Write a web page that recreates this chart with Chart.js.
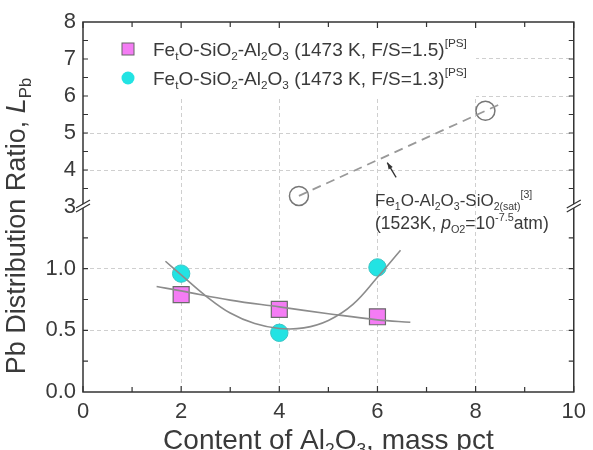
<!DOCTYPE html>
<html>
<head>
<meta charset="utf-8">
<script src="https://cdn.jsdelivr.net/npm/chart.js@4.4.0/dist/chart.umd.min.js"></script>
<style>
html, body { margin: 0; padding: 0; background: #fff; }
</style>
</head>
<body>
<canvas id="graph" width="593" height="450"></canvas>
<script>
// measured points
const alContent = [2, 4, 6];
const lpbFS15 = [0.79, 0.67, 0.61];
const lpbFS13 = [0.96, 0.48, 1.01];
// fitted curves
const fitFS15X = [1.5, 2, 3, 4, 5, 6, 6.67];
const fitFS15Y = [0.855, 0.82, 0.745, 0.69, 0.635, 0.585, 0.565];
const fitFS13X = [1.68, 2, 2.5, 3, 3.5, 4, 4.5, 5, 5.5, 6, 6.47];
const fitFS13Y = [1.06, 0.95, 0.78, 0.64, 0.555, 0.515, 0.52, 0.58, 0.71, 0.93, 1.15];
// Fe1O-Al2O3-SiO2(sat) at 1523K
const refX = [4.4, 8.2];
const refY = [3.3, 5.6];
const refLineX = [4.4, 8.5];
const refLineY = [3.3, 5.78];

const xTicks = [0, 2, 4, 6, 8, 10];
const lowTicks = [0, 0.5, 1.0];
const highTicks = [3, 4, 5, 6, 7, 8];

const FONT = '"Liberation Sans", Arial, sans-serif';
const TXT = '#3a3a3a';

function pairs(xs, ys) {
    return xs.map((x, i) => ({x: x, y: ys[i]}));
}

// text with sub / superscripts: parts = [[text, mode]], mode '' | 'b' (sub) | 'p' (sup) | 'i' (italic)
function rich(ctx, x, y, parts, size, draw) {
    let cx = x;
    parts.forEach(([t, m]) => {
        let fs = size, dy = 0, st = '';
        if (m === 'b') { fs = size * 0.62; dy = size * 0.22; }
        if (m === 'p') { fs = size * 0.62; dy = -size * 0.45; }
        if (m === 'i') st = 'italic ';
        ctx.font = st + fs + 'px ' + FONT;
        if (draw !== false) ctx.fillText(t, cx, y + dy);
        cx += ctx.measureText(t).width;
    });
    return cx - x;
}

function gridColor(edges) {
    return c => edges.includes(c.tick.value) ? 'rgba(0,0,0,0)' : '#cfcfcf';
}

const framePlugin = {
    id: 'frame',
    beforeDatasetsDraw(chart) {
        const {ctx, chartArea: a} = chart;
        // legend box hides the grid
        ctx.save();
        ctx.fillStyle = '#fff';
        ctx.fillRect(a.left + 1, a.top + 1, 392, 74);
        ctx.restore();
    },
    afterDraw(chart) {
        const {ctx, chartArea: a} = chart;
        const sx = chart.scales.x, lo = chart.scales.yLow, hi = chart.scales.yHigh;
        ctx.save();
        ctx.strokeStyle = '#333';
        ctx.lineWidth = 1.5;
        ctx.strokeRect(a.left, a.top, a.right - a.left, a.bottom - a.top);

        // inward ticks
        ctx.lineWidth = 1.2;
        ctx.beginPath();
        for (let v = 0; v <= 10; v++) {
            const px = sx.getPixelForValue(v);
            const len = v % 2 === 0 ? 6 : 5;
            ctx.moveTo(px, a.bottom); ctx.lineTo(px, a.bottom - len);
            ctx.moveTo(px, a.top); ctx.lineTo(px, a.top + len);
        }
        for (let v = 0.25; v < 1.5; v += 0.25) {
            const py = lo.getPixelForValue(v);
            ctx.moveTo(a.left, py); ctx.lineTo(a.left + 5, py);
            ctx.moveTo(a.right, py); ctx.lineTo(a.right - 5, py);
        }
        for (let v = 3.5; v < 8; v += 0.5) {
            const py = hi.getPixelForValue(v);
            ctx.moveTo(a.left, py); ctx.lineTo(a.left + 5, py);
            ctx.moveTo(a.right, py); ctx.lineTo(a.right - 5, py);
        }
        ctx.stroke();

        // axis breaks
        const by = hi.bottom - 2;
        [a.left, a.right].forEach(bx => {
            ctx.fillStyle = '#fff';
            ctx.beginPath();
            ctx.moveTo(bx - 7, by + 3); ctx.lineTo(bx + 7, by - 5);
            ctx.lineTo(bx + 7, by - 1); ctx.lineTo(bx - 7, by + 7);
            ctx.closePath();
            ctx.fill();
            ctx.strokeStyle = '#333';
            ctx.lineWidth = 1.3;
            ctx.beginPath();
            ctx.moveTo(bx - 7, by + 3); ctx.lineTo(bx + 7, by - 5);
            ctx.moveTo(bx - 7, by + 7); ctx.lineTo(bx + 7, by - 1);
            ctx.stroke();
        });

        ctx.fillStyle = TXT;
        ctx.textBaseline = 'alphabetic';
        ctx.textAlign = 'left';

        // x title
        const xt = [['Content of Al', ''], ['2', 'b'], ['O', ''], ['3', 'b'], [', mass pct', '']];
        const xw = rich(ctx, 0, 0, xt, 28, false);
        rich(ctx, (a.left + a.right) / 2 - xw / 2, 449, xt, 28);

        // y title
        const yt = [['Pb Distribution Ratio, ', ''], ['L', 'i'], ['Pb', 'b']];
        const yw = rich(ctx, 0, 0, yt, 27, false);
        ctx.save();
        ctx.translate(25, 226);
        ctx.rotate(-Math.PI / 2);
        rich(ctx, -yw / 2, 0, yt, 27);
        ctx.restore();

        // legend
        const lx = 128;
        ctx.fillStyle = '#f47cf4';
        ctx.strokeStyle = '#666';
        ctx.lineWidth = 1;
        ctx.fillRect(lx - 6, 43, 12, 12);
        ctx.strokeRect(lx - 6, 43, 12, 12);
        ctx.fillStyle = '#22e3e3';
        ctx.beginPath();
        ctx.arc(lx, 78, 6.5, 0, Math.PI * 2);
        ctx.fill();
        ctx.fillStyle = TXT;
        const leg = s => [['Fe', ''], ['t', 'b'], ['O-SiO', ''], ['2', 'b'], ['-Al', ''], ['2', 'b'], ['O', ''], ['3', 'b'],
            [' (1473 K, F/S=' + s + ')', ''], ['[PS]', 'p']];
        rich(ctx, 153, 56, leg('1.5'), 19);
        rich(ctx, 153, 85, leg('1.3'), 19);

        // annotation
        const tipX = sx.getPixelForValue(6.2), tipY = hi.getPixelForValue(4.2);
        const tailX = sx.getPixelForValue(6.38), tailY = hi.getPixelForValue(3.8);
        ctx.strokeStyle = '#333';
        ctx.lineWidth = 1.3;
        ctx.beginPath();
        ctx.moveTo(tailX, tailY); ctx.lineTo(tipX, tipY);
        ctx.stroke();
        const ang = Math.atan2(tipY - tailY, tipX - tailX);
        ctx.fillStyle = '#333';
        ctx.beginPath();
        ctx.moveTo(tipX, tipY);
        ctx.lineTo(tipX - 7 * Math.cos(ang - 0.35), tipY - 7 * Math.sin(ang - 0.35));
        ctx.lineTo(tipX - 7 * Math.cos(ang + 0.35), tipY - 7 * Math.sin(ang + 0.35));
        ctx.closePath();
        ctx.fill();
        ctx.fillStyle = TXT;
        rich(ctx, 375, 206, [['Fe', ''], ['1', 'b'], ['O-Al', ''], ['2', 'b'], ['O', ''], ['3', 'b'], ['-SiO', ''],
            ['2(sat)', 'b'], ['[3]', 'p']], 17);
        rich(ctx, 375, 229, [['(1523K, ', ''], ['p', 'i'], ['O', 'b'], ['2', 'b'], ['=10', ''], ['-7.5', 'p'], ['atm)', '']], 17.5);
        ctx.restore();
    }
};

const tickFont = {family: FONT, size: 22};

const ctx = document.getElementById('graph').getContext('2d');
new Chart(ctx, {
    type: 'scatter',
    data: {
        datasets: [{
            label: 'fit F/S=1.5',
            data: pairs(fitFS15X, fitFS15Y),
            yAxisID: 'yLow',
            showLine: true,
            pointRadius: 0,
            borderColor: '#8c8c8c',
            borderWidth: 1.6,
            tension: 0.4,
            order: 0
        }, {
            label: 'fit F/S=1.3',
            data: pairs(fitFS13X, fitFS13Y),
            yAxisID: 'yLow',
            showLine: true,
            pointRadius: 0,
            borderColor: '#8c8c8c',
            borderWidth: 1.6,
            tension: 0.4,
            order: 0
        }, {
            label: 'ref line',
            data: pairs(refLineX, refLineY),
            yAxisID: 'yHigh',
            showLine: true,
            pointRadius: 0,
            borderColor: '#999',
            borderWidth: 1.8,
            borderDash: [9, 6],
            order: 0
        }, {
            label: 'F/S=1.5',
            data: pairs(alContent, lpbFS15),
            yAxisID: 'yLow',
            pointStyle: 'rect',
            pointRadius: 11.3,
            backgroundColor: '#f47cf4',
            borderColor: '#6a6a6a',
            borderWidth: 1.2,
            order: 1
        }, {
            label: 'F/S=1.3',
            data: pairs(alContent, lpbFS13),
            yAxisID: 'yLow',
            pointStyle: 'circle',
            pointRadius: 8.7,
            backgroundColor: '#22e3e3',
            borderColor: '#3cc4c4',
            borderWidth: 1,
            order: 1
        }, {
            label: '1523K',
            data: pairs(refX, refY),
            yAxisID: 'yHigh',
            pointStyle: 'circle',
            pointRadius: 9.5,
            backgroundColor: 'rgba(0,0,0,0)',
            borderColor: '#777',
            borderWidth: 1.5,
            order: 1
        }]
    },
    options: {
        responsive: false,
        animation: false,
        layout: {padding: {top: 22, right: 11, left: 0, bottom: 0}},
        plugins: {legend: {display: false}, tooltip: {enabled: false}},
        scales: {
            x: {
                type: 'linear', min: 0, max: 10,
                afterBuildTicks: s => { s.ticks = xTicks.map(v => ({value: v})); },
                afterFit: s => { s.height = 58; },
                grid: {color: gridColor([0, 10]), drawTicks: false},
                border: {display: false, dash: [4, 3]},
                ticks: {color: TXT, font: tickFont, padding: 7, autoSkip: false, maxRotation: 0}
            },
            yLow: {
                type: 'linear', position: 'left', stack: 'y', stackWeight: 1,
                min: 0, max: 1.5,
                afterBuildTicks: s => { s.ticks = lowTicks.map(v => ({value: v})); },
                afterFit: s => { s.width = 83; },
                grid: {color: gridColor([0]), drawTicks: false},
                border: {display: false, dash: [4, 3]},
                ticks: {color: TXT, font: tickFont, padding: 7, autoSkip: false,
                    callback: v => v.toFixed(1)}
            },
            yHigh: {
                type: 'linear', position: 'left', stack: 'y', stackWeight: 1,
                min: 3, max: 8,
                afterBuildTicks: s => { s.ticks = highTicks.map(v => ({value: v})); },
                afterFit: s => { s.width = 83; },
                grid: {color: gridColor([3, 8]), drawTicks: false},
                border: {display: false, dash: [4, 3]},
                ticks: {color: TXT, font: tickFont, padding: 7, autoSkip: false,
                    callback: v => String(v)}
            }
        }
    },
    plugins: [framePlugin]
});
</script>
</body>
</html>
